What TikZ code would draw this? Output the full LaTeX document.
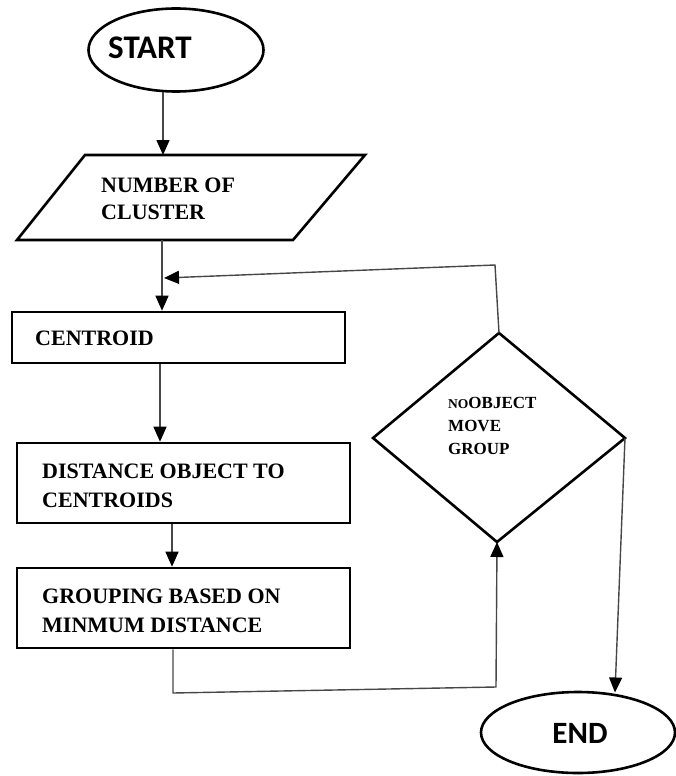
\documentclass[tikz,border=0pt]{standalone}
\usepackage{fontspec}
\setmainfont{Liberation Serif}
\newfontfamily\calib{Carlito}
\usetikzlibrary{arrows.meta,shapes.geometric}
\begin{document}
\begin{tikzpicture}[x=1pt,y=-1pt,
  shp/.style={draw=black,line width=2.6pt,line join=miter},
  conn/.style={draw=black!72,line width=1.4pt},
  arr/.style={conn,-{Triangle[width=13pt,length=15pt,black]}},
  lbl/.style={font=\fontsize{22}{28}\selectfont\bfseries,anchor=north west,inner sep=0pt,align=left},
  dlbl/.style={font=\fontsize{17}{23}\selectfont\bfseries,anchor=north west,inner sep=0pt,align=left},
  term/.style={font=\calib\fontsize{33}{33}\selectfont\bfseries,inner sep=0pt}
]
\useasboundingbox (0,0) rectangle (675,776);

% START
\node[shp,ellipse,minimum width=175pt,minimum height=83pt,inner sep=0pt] (start) at (176,50) {};
\node[term] (starttxt) at (150,48) {START};
\coordinate (s1) at (163,91.5);

% parallelogram
\coordinate (p1) at (85,155);
\coordinate (p2) at (365,155);
\coordinate (p3) at (293,240);
\coordinate (p4) at (17,240);
\draw[shp] (p1) -- (p2) -- (p3) -- (p4) -- cycle;
\coordinate (partop) at (163,155);
\coordinate (parbot) at (162,240);
\node[lbl,font=\fontsize{22}{27}\selectfont\bfseries] (numtxt) at (101,177.5) {NUMBER OF\\CLUSTER};

% centroid
\node[shp,rectangle,minimum width=333pt,minimum height=51pt,inner sep=0pt] (cen) at (178.5,337.5) {};
\node[lbl] (centxt) at (35,330.5) {CENTROID};

% distance
\node[shp,rectangle,minimum width=333pt,minimum height=80pt,inner sep=0pt] (dist) at (183.5,483) {};
\node[lbl,font=\fontsize{22}{29}\selectfont\bfseries] (disttxt) at (42,463.5) {DISTANCE OBJECT TO\\CENTROIDS};

% grouping
\node[shp,rectangle,minimum width=333pt,minimum height=80pt,inner sep=0pt] (grp) at (183.5,608) {};
\node[lbl,font=\fontsize{22}{29}\selectfont\bfseries] (grptxt) at (42,588.5) {GROUPING BASED ON\\MINMUM DISTANCE};

% diamond
\coordinate (dtop) at (499,333);
\coordinate (dleft) at (373,438);
\coordinate (dright) at (625,438);
\coordinate (dbot) at (497,542);
\draw[shp] (dtop) -- (dright) -- (dbot) -- (dleft) -- cycle;
\node[dlbl] (dtxt) at (448,397.5) {{\fontsize{13.5}{13.5}\selectfont NO}OBJECT\\MOVE\\GROUP};

% END
\node[shp,ellipse,minimum width=194pt,minimum height=81pt,inner sep=0pt] (end) at (578,732.5) {};
\node[term,font=\calib\fontsize{31}{31}\selectfont\bfseries] (endtxt) at (580,733) {END};
\coordinate (etip) at (615,692.5);

% connectors
\draw[arr] (s1) -- (partop);
\draw[arr] (parbot) -- (parbot |- cen.north);
\draw[arr] ([xshift=-18.5pt]cen.south) -- ([xshift=-23.5pt]dist.north);
\draw[arr] ([xshift=-11.5pt]dist.south) -- ([xshift=-11.5pt]grp.north);
\coordinate (fb1) at (495,265);
\coordinate (fbtip) at (164,278);
\draw[arr] (dtop) -- (fb1) -- (fbtip);
\coordinate (lb1) at (173,693);
\coordinate (lb2) at (496,687);
\draw[arr] ([xshift=-10.5pt]grp.south) -- (lb1) -- (lb2) -- (dbot);
\draw[arr] (dright) -- (etip);
\end{tikzpicture}
\end{document}
